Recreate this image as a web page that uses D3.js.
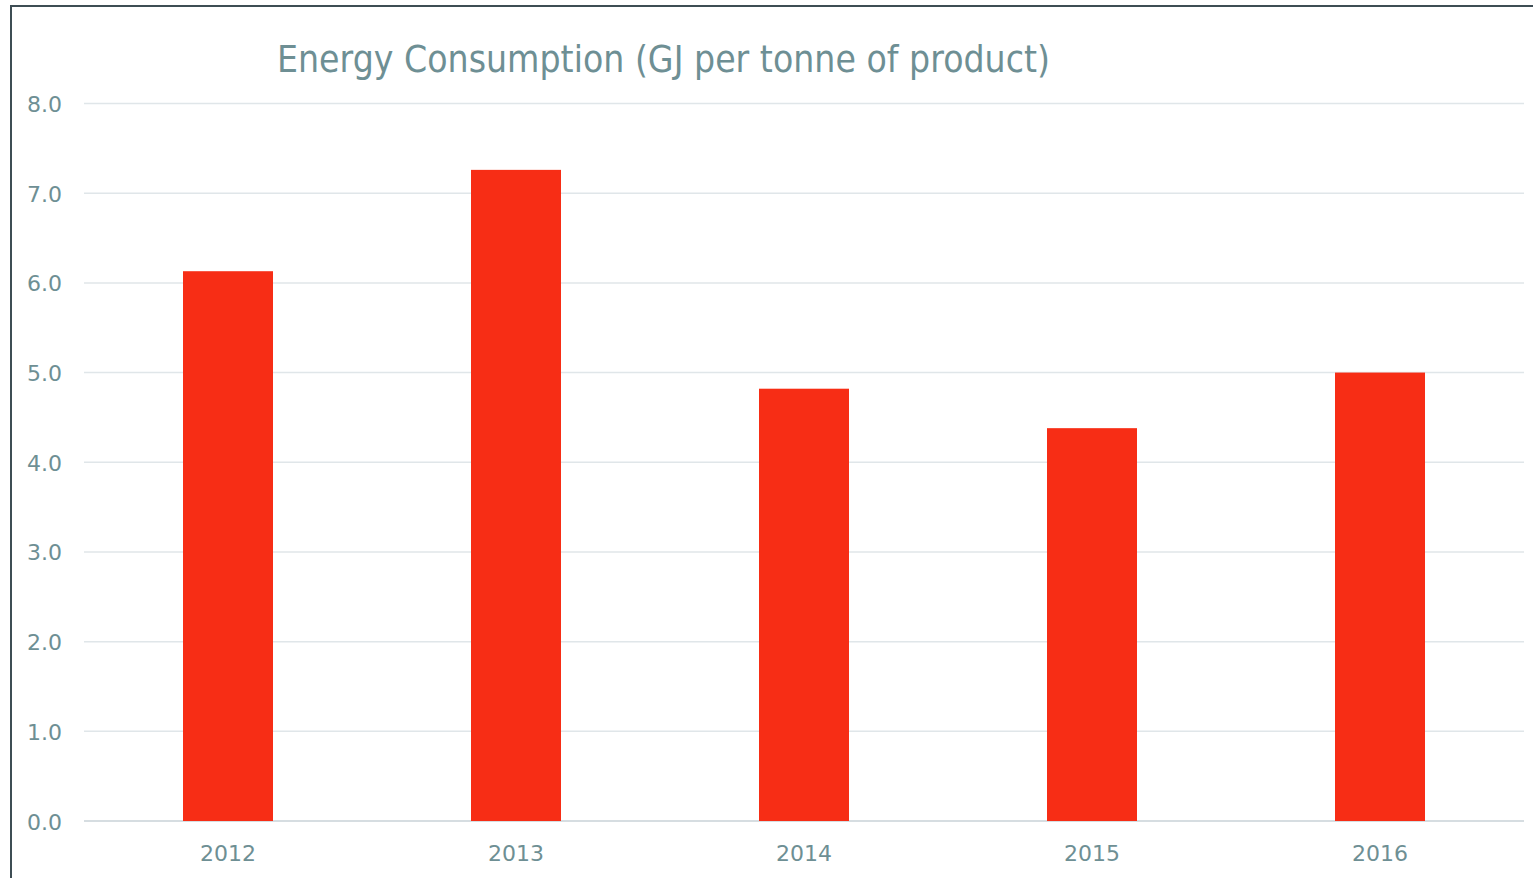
<!DOCTYPE html>
<html>
<head>
<meta charset="utf-8">
<script src="https://d3js.org/d3.v7.min.js"></script>
<style>
  body { margin: 0; background: #fff; }
  svg { display: block; }
</style>
</head>
<body>
<svg class="chart" width="1533" height="878"></svg>
<script>
// chart values
const years = ["2012", "2013", "2014", "2015", "2016"];
const energy = [6.13, 7.26, 4.82, 4.38, 5.0];
const yTicks = [0, 1, 2, 3, 4, 5, 6, 7, 8];
const title = "Energy Consumption (GJ per tonne of product)";

const svg = d3.select(".chart");
const font = "'DejaVu Sans', Tahoma, sans-serif";
const textColor = "#6e8f94";

// outer frame (right and bottom edges fall outside the window)
svg.append("rect")
  .attr("x", 11).attr("y", 6)
  .attr("width", 1600).attr("height", 1000)
  .attr("fill", "none")
  .attr("stroke", "#3e4d54")
  .attr("stroke-width", 2);

const x = d3.scaleBand().domain(years).range([84, 1524])
  .paddingInner(0.6875).paddingOuter(0.34375);
const y = d3.scaleLinear().domain([0, 8]).range([821, 103.5]);

// gridlines
svg.append("g")
  .selectAll("line")
  .data(yTicks)
  .join("line")
    .attr("x1", 84).attr("x2", 1524)
    .attr("y1", d => y(d)).attr("y2", d => y(d))
    .attr("stroke", d => d === 0 ? "#d6dde1" : "#e0e6e9")
    .attr("stroke-width", d => d === 0 ? 2 : 1.5);

// bars
svg.append("g")
  .selectAll("rect")
  .data(energy)
  .join("rect")
    .attr("x", (d, i) => x(years[i]))
    .attr("width", x.bandwidth())
    .attr("y", d => y(d))
    .attr("height", d => y(0) - y(d))
    .attr("fill", "#f72d15");

// y axis labels
const yAxis = svg.append("g")
  .attr("transform", "translate(62,1)")
  .call(d3.axisLeft(y).tickValues(yTicks).tickFormat(d3.format(".1f")).tickSize(0).tickPadding(0));
yAxis.select(".domain").remove();
yAxis.selectAll("text")
  .attr("fill", textColor)
  .attr("font-family", font)
  .attr("font-size", 22);

// x axis labels
const xAxis = svg.append("g")
  .attr("transform", "translate(0,845)")
  .call(d3.axisBottom(x).tickSize(0).tickPadding(0));
xAxis.select(".domain").remove();
xAxis.selectAll("text")
  .attr("fill", textColor)
  .attr("font-family", font)
  .attr("font-size", 22);

// title
svg.append("text")
  .attr("x", 277)
  .attr("y", 72)
  .attr("fill", textColor)
  .attr("font-family", font)
  .attr("font-size", 38)
  .attr("textLength", 773)
  .attr("lengthAdjust", "spacingAndGlyphs")
  .text(title);
</script>
</body>
</html>
